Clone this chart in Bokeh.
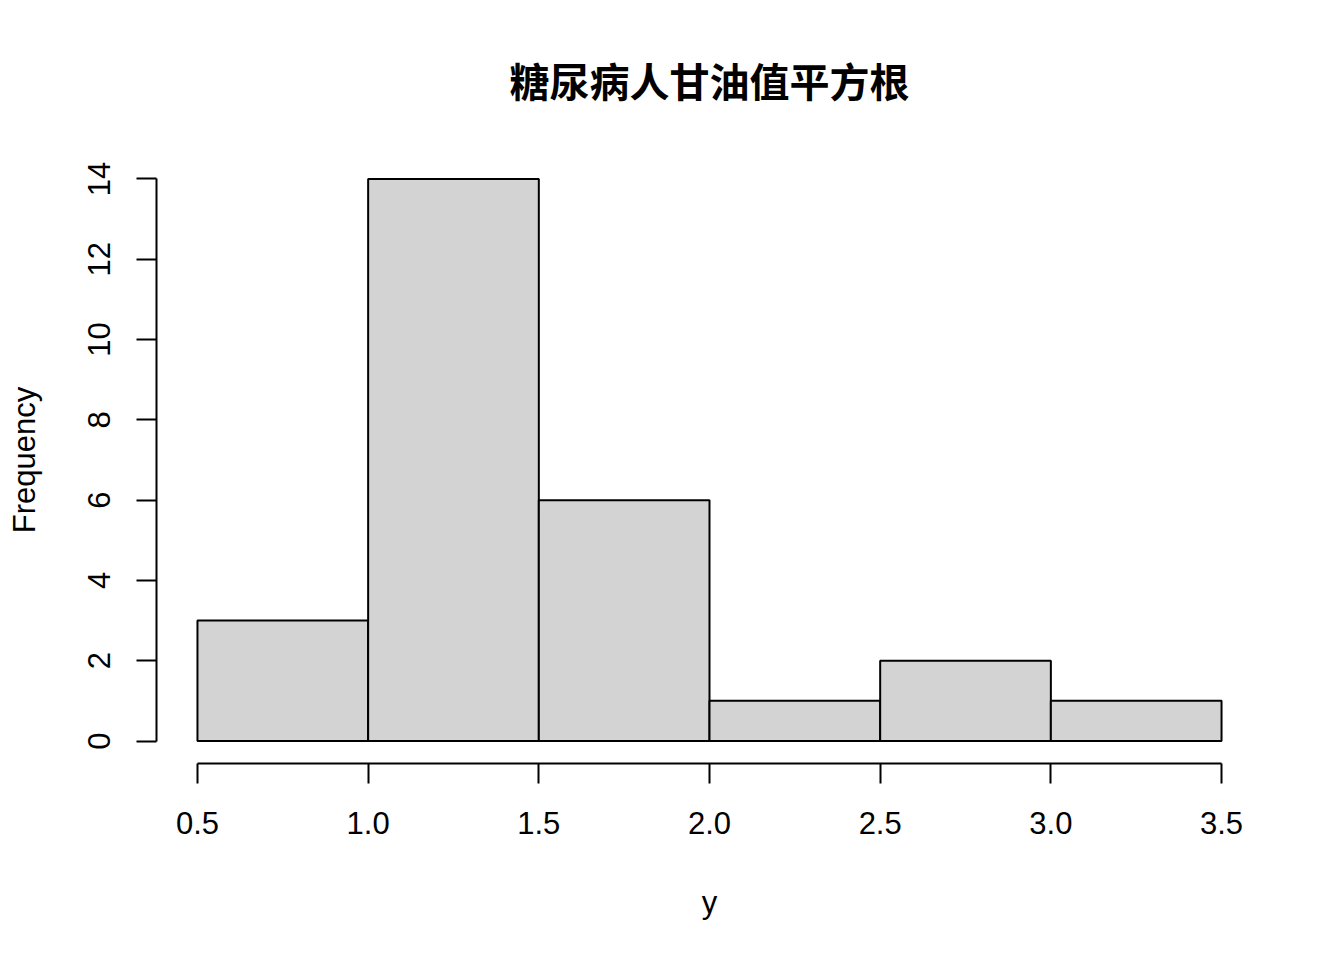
from bokeh.plotting import figure
from bokeh.models import FixedTicker, ColumnDataSource
from bokeh.embed import file_html
from bokeh.resources import INLINE

# Data
bin_left = [0.5, 1.0, 1.5, 2.0, 2.5, 3.0]
bin_right = [1.0, 1.5, 2.0, 2.5, 3.0, 3.5]
counts = [3, 14, 6, 1, 2, 1]
x_ticks = [0.5, 1.0, 1.5, 2.0, 2.5, 3.0, 3.5]
x_tick_labels = ["0.5", "1.0", "1.5", "2.0", "2.5", "3.0", "3.5"]
y_ticks = [0, 2, 4, 6, 8, 10, 12, 14]
title_text = "糖尿病人甘油值平方根"

src = ColumnDataSource(dict(left=bin_left, right=bin_right, top=counts,
                            bottom=[0] * len(counts)))

xpad = (max(bin_right) - min(bin_left)) * 0.04
ypad = max(counts) * 0.04

p = figure(frame_width=1106, frame_height=607,
           min_border_left=156, min_border_right=66,
           min_border_top=156, min_border_bottom=181,
           x_range=(min(bin_left) - xpad, max(bin_right) + xpad),
           y_range=(-ypad, max(counts) + ypad),
           output_backend="svg", toolbar_location=None,
           title=title_text)

p.quad(left="left", right="right", top="top", bottom="bottom", source=src,
       fill_color="#D3D3D3", line_color="black", line_width=2)

p.grid.visible = False
p.outline_line_color = None
p.background_fill_color = "white"
p.border_fill_color = "white"

p.title.text_font = "Noto Sans CJK SC"
p.title.text_font_size = "40px"
p.title.text_font_style = "bold"
p.title.text_color = "black"
p.title.align = "center"
p.title.standoff = 96

for ax in (p.xaxis[0], p.yaxis[0]):
    ax.major_tick_out = 20
    ax.major_tick_in = 0
    ax.minor_tick_line_color = None
    ax.axis_line_width = 2
    ax.major_tick_line_width = 2
    ax.axis_line_color = "black"
    ax.major_tick_line_color = "black"
    ax.major_label_text_font = "Liberation Sans"
    ax.major_label_text_font_size = "31px"
    ax.major_label_text_color = "black"
    ax.axis_label_text_font = "Liberation Sans"
    ax.axis_label_text_font_size = "31px"
    ax.axis_label_text_font_style = "normal"
    ax.axis_label_text_color = "black"

p.xaxis[0].bounds = (min(bin_left), max(bin_right))
p.xaxis[0].ticker = FixedTicker(ticks=x_ticks)
p.xaxis[0].major_label_overrides = {t: l for t, l in zip(x_ticks, x_tick_labels)}
p.xaxis[0].major_label_standoff = 28
p.xaxis[0].axis_label = "y"
p.xaxis[0].axis_label_standoff = 48

p.yaxis[0].bounds = (0, max(counts))
p.yaxis[0].ticker = FixedTicker(ticks=y_ticks)
p.yaxis[0].major_label_orientation = "vertical"
p.yaxis[0].major_label_standoff = 26
p.yaxis[0].axis_label = "Frequency"
p.yaxis[0].axis_label_standoff = 44

open("out.html", "w").write(file_html(p, INLINE))
